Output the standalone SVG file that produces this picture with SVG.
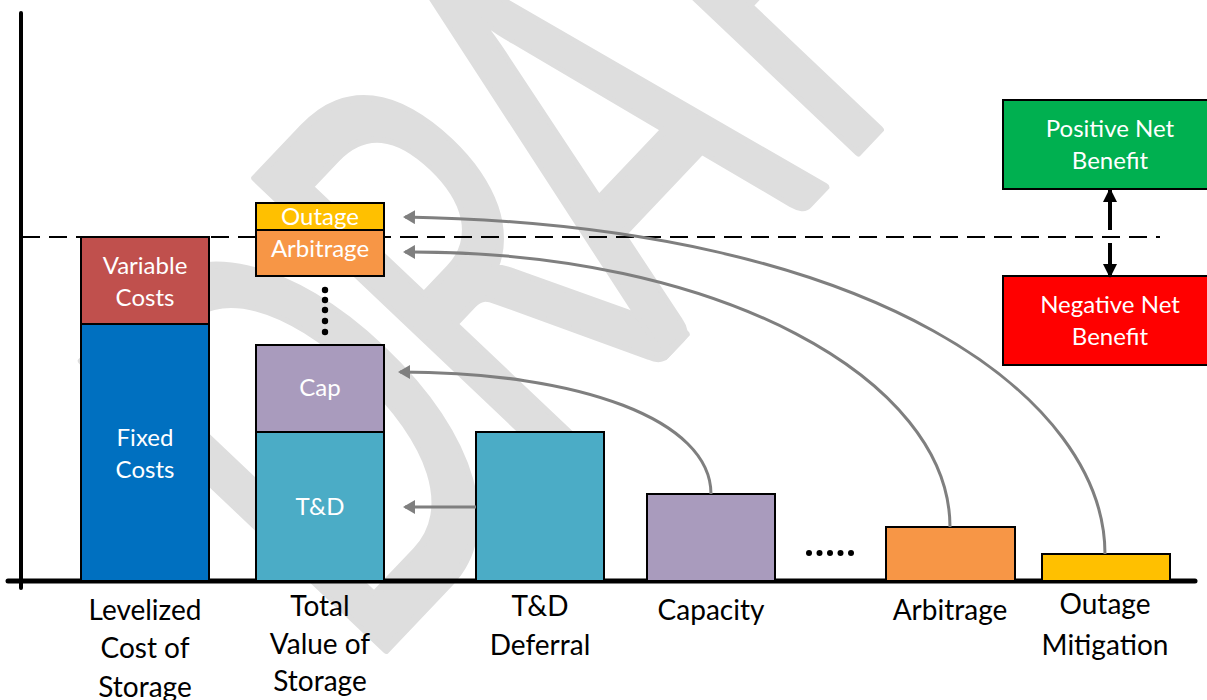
<svg xmlns="http://www.w3.org/2000/svg" width="1207" height="700" viewBox="0 0 1207 700">
<defs>
<style>
.bar{stroke:#000;stroke-width:2}
.lbl{font-family:Lato,"Open Sans","Liberation Sans",sans-serif;font-size:24px;fill:#fff;text-anchor:middle}
.ax{font-family:Lato,"Open Sans","Liberation Sans",sans-serif;font-size:28px;fill:#000;text-anchor:middle}
.conn{fill:none;stroke:#7f7f7f;stroke-width:3}
.blk{fill:none;stroke:#000;stroke-width:4}
</style>
<marker id="ga" viewBox="0 0 12 14" refX="10" refY="7" markerWidth="12" markerHeight="14" markerUnits="userSpaceOnUse" orient="auto">
<path d="M0,0 L12,7 L0,14 z" fill="#7f7f7f"/>
</marker>
<marker id="ba" viewBox="0 0 14 14" refX="12" refY="7" markerWidth="14" markerHeight="14" markerUnits="userSpaceOnUse" orient="auto">
<path d="M0,0 L14,7 L0,14 z" fill="#000"/>
</marker>
</defs>
<rect width="1207" height="700" fill="#fff"/>
<text id="watermark" transform="translate(363,674) rotate(-46.5) scale(0.6,1)" font-family="Lato,'Open Sans',sans-serif" font-size="585" fill="#dedede" stroke="#dedede" stroke-width="8" stroke-linejoin="round"><tspan x="0">D</tspan><tspan x="420">R</tspan><tspan x="727">A</tspan><tspan x="1143">F</tspan><tspan x="1470">T</tspan></text>

<g id="axes">
<line x1="21" y1="13" x2="21" y2="588" stroke="#000" stroke-width="4" stroke-linecap="round"/>
<line x1="8" y1="581" x2="1195" y2="581" stroke="#000" stroke-width="5" stroke-linecap="round"/>
<line x1="22" y1="237" x2="1160" y2="237" stroke="#000" stroke-width="2" stroke-dasharray="18,9"/>
</g>

<g id="lcos">
<rect class="bar" x="81" y="237" width="128" height="87" fill="#c0504d"/>
<rect class="bar" x="81" y="324" width="128" height="257" fill="#0070c0"/>
<text class="lbl" x="145" y="274">Variable</text>
<text class="lbl" x="145" y="306">Costs</text>
<text class="lbl" x="145" y="446">Fixed</text>
<text class="lbl" x="145" y="478">Costs</text>
<text class="ax" x="145" y="620">Levelized</text>
<text class="ax" x="145" y="658">Cost of</text>
<text class="ax" x="145" y="697">Storage</text>
</g>

<g id="total">
<rect class="bar" x="256" y="203" width="128" height="27" fill="#ffc000"/>
<rect class="bar" x="256" y="230" width="128" height="46" fill="#f79646"/>
<rect class="bar" x="256" y="345" width="128" height="87" fill="#a99bbd"/>
<rect class="bar" x="256" y="432" width="128" height="149" fill="#4bacc6"/>
<text class="lbl" x="320" y="225">Outage</text>
<text class="lbl" x="320" y="257">Arbitrage</text>
<text class="lbl" x="320" y="396">Cap</text>
<text class="lbl" x="320" y="515">T&amp;D</text>
<g fill="#000">
<circle cx="325" cy="290" r="3.2"/><circle cx="325" cy="300" r="3.2"/><circle cx="325" cy="310" r="3.2"/><circle cx="325" cy="321" r="3.2"/><circle cx="325" cy="332" r="3.2"/>
</g>
<text class="ax" x="320" y="616">Total</text>
<text class="ax" x="320" y="654">Value of</text>
<text class="ax" x="320" y="691">Storage</text>
</g>

<g id="td">
<rect class="bar" x="476" y="432" width="128" height="149" fill="#4bacc6"/>
<text class="ax" x="540" y="616">T&amp;D</text>
<text class="ax" x="540" y="655">Deferral</text>
</g>

<g id="capacity">
<rect class="bar" x="647" y="494" width="128" height="87" fill="#a99bbd"/>
<text class="ax" x="711" y="620">Capacity</text>
</g>

<g id="ellipsis" fill="#000">
<circle cx="809" cy="553" r="3"/><circle cx="819.5" cy="553" r="3"/><circle cx="830" cy="553" r="3"/><circle cx="840.5" cy="553" r="3"/><circle cx="851" cy="553" r="3"/>
</g>

<g id="arbitrage">
<rect class="bar" x="886" y="527" width="129" height="54" fill="#f79646"/>
<text class="ax" x="950" y="620">Arbitrage</text>
</g>

<g id="outage">
<rect class="bar" x="1042" y="554" width="128" height="27" fill="#ffc000"/>
<text class="ax" x="1105" y="614">Outage</text>
<text class="ax" x="1105" y="655">Mitigation</text>
</g>

<g id="positive">
<rect class="bar" x="1003" y="100" width="210" height="89" fill="#00b050"/>
<text class="lbl" x="1110" y="137">Positive Net</text>
<text class="lbl" x="1110" y="169">Benefit</text>
</g>

<g id="negative">
<rect class="bar" x="1003" y="276" width="210" height="89" fill="#ff0000"/>
<text class="lbl" x="1110" y="313">Negative Net</text>
<text class="lbl" x="1110" y="345">Benefit</text>
</g>

<g id="connectors">
<path class="conn" d="M476,507 L405,507" marker-end="url(#ga)"/>
<path class="conn" d="M711,494 C711,420 580,372 400,372" marker-end="url(#ga)"/>
<path class="conn" d="M950,527 C950,380 720,250 405,252" marker-end="url(#ga)"/>
<path class="conn" d="M1105,554 C1105,400 880,225 405,217" marker-end="url(#ga)"/>
<path class="blk" d="M1110,230 L1110,190" marker-end="url(#ba)"/>
<path class="blk" d="M1110,243 L1110,276" marker-end="url(#ba)"/>
</g>
</svg>
